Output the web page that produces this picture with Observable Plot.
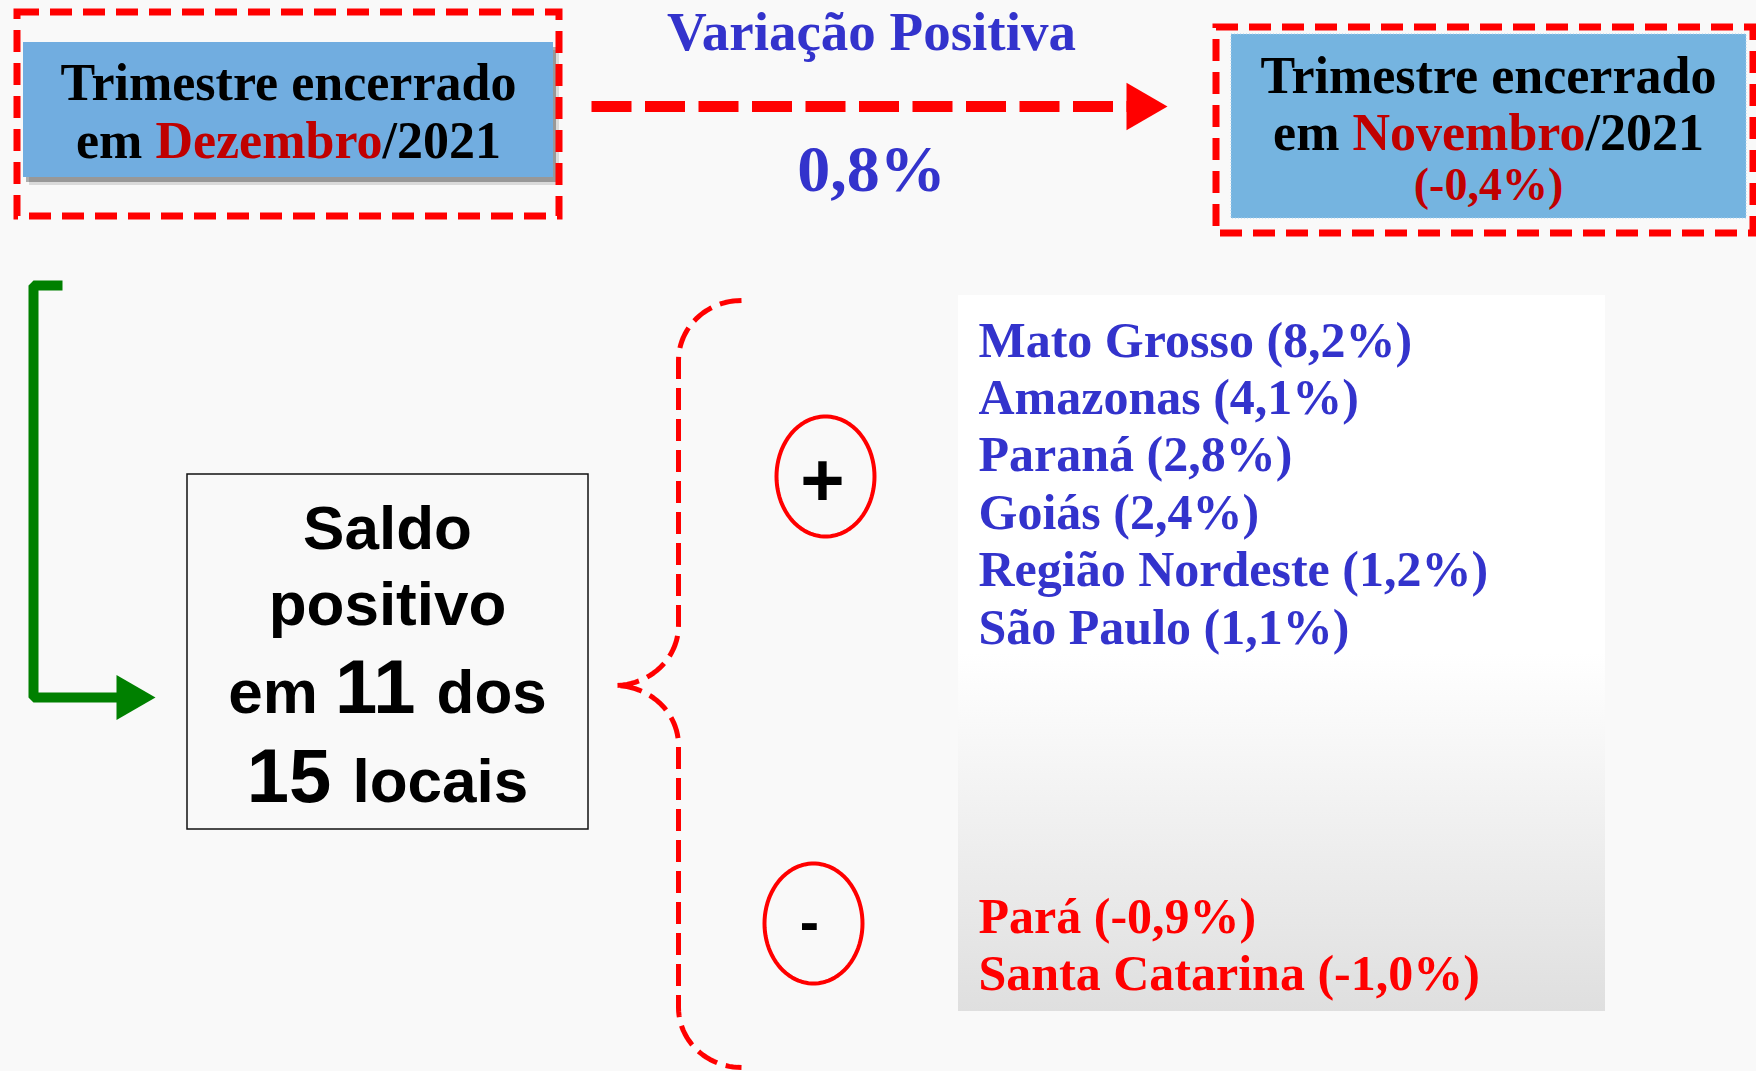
<!DOCTYPE html>
<html lang="pt-BR">
<head>
<meta charset="utf-8">
<title>Trimestre encerrado em Dezembro/2021</title>
<script src="https://cdn.jsdelivr.net/npm/d3@7"></script>
<script src="https://cdn.jsdelivr.net/npm/@observablehq/plot@0.6"></script>
<style>
html, body { margin: 0; padding: 0; background: #f9f9f9; overflow: hidden; }
svg { display: block; }
</style>
</head>
<body>
<div id="chart"></div>
<script>
// ---------------- data ----------------
const headerLabel = "Trimestre encerrado";
const currentMonth = "Dezembro";
const previousMonth = "Novembro";
const year = "2021";
const variationLabel = "Variação Positiva";
const variationValue = 0.8;
const previousValue = -0.4;
const positiveCount = 11;
const totalCount = 15;
const positiveLocals = ["Mato Grosso", "Amazonas", "Paraná", "Goiás", "Região Nordeste", "São Paulo"];
const positiveValues = [8.2, 4.1, 2.8, 2.4, 1.2, 1.1];
const negativeLocals = ["Pará", "Santa Catarina"];
const negativeValues = [-0.9, -1.0];

// ---------------- styling / layout ----------------
const W = 1756, H = 1071;
const SERIF = "'Liberation Serif', 'Times New Roman', serif";
const SANS = "'Liberation Sans', Arial, sans-serif";
const C = {
  bg: "#f9f9f9", black: "#000000", red: "#ff0000", darkRed: "#c00000",
  blueText: "#3333cc", boxBlueL: "#71ade0", boxBlueR: "#75b4e0", green: "#008000"
};
const L = {
  boxL: {x1: 17, x2: 559, y1: 12, y2: 216},
  blueL: {x1: 23, x2: 553, y1: 42, y2: 177},
  boxR: {x1: 1216, x2: 1753, y1: 27, y2: 233},
  blueR: {x1: 1231, x2: 1746, y1: 34, y2: 218},
  hdrL: {cx: 288, y: [99, 157]},
  hdrR: {cx: 1488, y: [92, 149, 199]},
  hdrSize: 52, hdrSmall: 46,
  varLabel: {cx: 871, y: 49, size: 55},
  varValue: {cx: 871, y: 190, size: 66},
  arrow: {x1: 591, x2: 1128, y: 106, base: 1126, tip: 1167},
  green: {x: 33, top: 285, stubX: 62, y: 697, endX: 120, base: 116, tip: 155},
  saldo: {x1: 187, x2: 588, y1: 474, y2: 829, cx: 387, y: [548, 624, 712, 801], size: 62, big: 76},
  brace: {x: 678, endX: 741, tipX: 614, top: 300, tipY: 685, bottom: 1067, r: 60},
  plus: {cx: 825, cy: 476, rx: 49, ry: 60, tx: 822, ty: 505, size: 76},
  minus: {cx: 813, cy: 923, rx: 49, ry: 60, tx: 809, ty: 941, size: 58},
  panel: {x1: 958, x2: 1605, y1: 295, y2: 1011},
  list: {x: 978, y0: 356, dy: 57.4, negY0: 932, size: 50}
};

const fmt = v => v.toFixed(1).replace(".", ",") + "%";

// ---------------- helpers ----------------
const ctx = document.createElement("canvas").getContext("2d");
function textWidth(text, size, family) {
  ctx.font = `bold ${size}px ${family}`;
  return ctx.measureText(text).width;
}
// a centred line made of differently styled pieces; "space" adds a trailing space to the advance
function lineParts(parts, cx, y, family) {
  const adv = parts.map(p => textWidth(p.space ? p.text + " " : p.text, p.size, family));
  let x = cx - d3.sum(adv) / 2;
  return parts.map((p, i) => {
    const r = {text: p.text, size: p.size, fill: p.fill, x, y};
    x += adv[i];
    return r;
  });
}
function arc(cx, cy, rx, ry, a0, a1, n = 24) {
  return d3.range(n + 1).map(k => {
    const a = (a0 + (a1 - a0) * k / n) * Math.PI / 180;
    return {x: cx + rx * Math.cos(a), y: cy + ry * Math.sin(a)};
  });
}
function ellipse(id, e) {
  return arc(e.cx, e.cy, e.rx, e.ry, 0, 360, 90).map(p => ({...p, id}));
}
const rectOf = (b, dx = 0, dy = 0) => ({x1: b.x1 + dx, x2: b.x2 + dx, y1: b.y1 + dy, y2: b.y2 + dy});

// ---------------- texts ----------------
const hs = L.hdrSize;
const serifTexts = [
  // left header
  ...lineParts([{text: headerLabel, size: hs, fill: C.black}], L.hdrL.cx, L.hdrL.y[0], SERIF),
  ...lineParts([
    {text: "em", size: hs, fill: C.black, space: true},
    {text: currentMonth, size: hs, fill: C.darkRed},
    {text: "/" + year, size: hs, fill: C.black}
  ], L.hdrL.cx, L.hdrL.y[1], SERIF),
  // right header
  ...lineParts([{text: headerLabel, size: hs, fill: C.black}], L.hdrR.cx, L.hdrR.y[0], SERIF),
  ...lineParts([
    {text: "em", size: hs, fill: C.black, space: true},
    {text: previousMonth, size: hs, fill: C.darkRed},
    {text: "/" + year, size: hs, fill: C.black}
  ], L.hdrR.cx, L.hdrR.y[1], SERIF),
  ...lineParts([{text: `(${fmt(previousValue)})`, size: L.hdrSmall, fill: C.darkRed}], L.hdrR.cx, L.hdrR.y[2], SERIF),
  // variation
  ...lineParts([{text: variationLabel, size: L.varLabel.size, fill: C.blueText}], L.varLabel.cx, L.varLabel.y, SERIF),
  ...lineParts([{text: fmt(variationValue), size: L.varValue.size, fill: C.blueText}], L.varValue.cx, L.varValue.y, SERIF),
  // lists
  ...positiveLocals.map((name, i) => ({
    text: `${name} (${fmt(positiveValues[i])})`, size: L.list.size, fill: C.blueText,
    x: L.list.x, y: L.list.y0 + i * L.list.dy
  })),
  ...negativeLocals.map((name, i) => ({
    text: `${name} (${fmt(negativeValues[i])})`, size: L.list.size, fill: C.red,
    x: L.list.x, y: L.list.negY0 + i * L.list.dy
  }))
];

const s = L.saldo;
const sansTexts = [
  ...lineParts([{text: "Saldo", size: s.size, fill: C.black}], s.cx, s.y[0], SANS),
  ...lineParts([{text: "positivo", size: s.size, fill: C.black}], s.cx, s.y[1], SANS),
  ...lineParts([
    {text: "em", size: s.size, fill: C.black, space: true},
    {text: String(positiveCount), size: s.big, fill: C.black, space: true},
    {text: "dos", size: s.size, fill: C.black}
  ], s.cx, s.y[2], SANS),
  ...lineParts([
    {text: String(totalCount), size: s.big, fill: C.black, space: true},
    {text: "locais", size: s.size, fill: C.black}
  ], s.cx, s.y[3], SANS),
  ...lineParts([{text: "+", size: L.plus.size, fill: C.black}], L.plus.tx, L.plus.ty, SANS),
  ...lineParts([{text: "-", size: L.minus.size, fill: C.black}], L.minus.tx, L.minus.ty, SANS)
];

// ---------------- shapes ----------------
const b = L.brace;
const bracePts = [
  ...arc(b.endX, b.top + b.r, b.endX - b.x, b.r, -90, -180),
  ...arc(b.tipX, b.tipY - b.r, b.x - b.tipX, b.r, 0, 90),
  ...arc(b.tipX, b.tipY + b.r, b.x - b.tipX, b.r, -90, 0),
  ...arc(b.endX, b.bottom - b.r, b.endX - b.x, b.r, 180, 90)
];
const g = L.green;
const greenPts = [
  {x: g.stubX, y: g.top}, {x: g.x, y: g.top}, {x: g.x, y: g.y}, {x: g.endX, y: g.y}
];
const arrowPts = [{x: L.arrow.x1, y: L.arrow.y}, {x: L.arrow.x2, y: L.arrow.y}];
const heads = [
  {x: L.arrow.base + (L.arrow.tip - L.arrow.base) / 3, y: L.arrow.y, r: (L.arrow.tip - L.arrow.base) / 2.333, fill: C.red},
  {x: g.base + (g.tip - g.base) / 3, y: g.y, r: (g.tip - g.base) / 2.333, fill: C.green}
];
const ellipsePts = [...ellipse("plus", L.plus), ...ellipse("minus", L.minus)];

const defs = () => {
  const d = d3.create("svg:defs");
  const lg = d.append("linearGradient").attr("id", "panelGrad")
    .attr("x1", 0).attr("x2", 0).attr("y1", 0).attr("y2", 1);
  lg.append("stop").attr("offset", "0%").attr("stop-color", "#ffffff");
  lg.append("stop").attr("offset", "50%").attr("stop-color", "#ffffff");
  lg.append("stop").attr("offset", "100%").attr("stop-color", "#dfdfdf");
  return d.node();
};

const chart = Plot.plot({
  width: W, height: H, margin: 0,
  x: {domain: [0, W], range: [0, W], axis: null},
  y: {domain: [0, H], range: [0, H], axis: null},
  r: {type: "identity"},
  color: {type: "identity"},
  style: {background: C.bg, overflow: "visible"},
  marks: [
    defs,
    // left header
    Plot.rect([rectOf(L.blueL, 6, 8)], {x1: "x1", x2: "x2", y1: "y1", y2: "y2", fill: "#000", fillOpacity: 0.12}),
    Plot.rect([rectOf(L.blueL, 3, 5)], {x1: "x1", x2: "x2", y1: "y1", y2: "y2", fill: "#000", fillOpacity: 0.3}),
    Plot.rect([L.blueL], {x1: "x1", x2: "x2", y1: "y1", y2: "y2", fill: C.boxBlueL}),
    Plot.rect([L.boxL], {x1: "x1", x2: "x2", y1: "y1", y2: "y2", fill: "none", stroke: C.red, strokeWidth: 7, strokeDasharray: "22,11"}),
    // right header
    Plot.rect([L.blueR], {x1: "x1", x2: "x2", y1: "y1", y2: "y2", fill: C.boxBlueR, stroke: "#a8cfee", strokeWidth: 1, strokeDasharray: "1,2"}),
    Plot.rect([L.boxR], {x1: "x1", x2: "x2", y1: "y1", y2: "y2", fill: "none", stroke: C.red, strokeWidth: 7, strokeDasharray: "22,11"}),
    // arrow
    Plot.line(arrowPts, {x: "x", y: "y", stroke: C.red, strokeWidth: 11, strokeDasharray: "40,13.5", strokeLinecap: "butt"}),
    // green bracket
    Plot.line(greenPts, {x: "x", y: "y", stroke: C.green, strokeWidth: 10, strokeLinecap: "butt", strokeLinejoin: "miter"}),
    Plot.dot(heads, {x: "x", y: "y", r: "r", fill: "fill", stroke: null, symbol: "triangle", rotate: 90}),
    // saldo box
    Plot.rect([L.saldo], {x1: "x1", x2: "x2", y1: "y1", y2: "y2", fill: "none", stroke: "#111", strokeWidth: 1.5}),
    // brace
    Plot.line(bracePts, {x: "x", y: "y", stroke: C.red, strokeWidth: 5, strokeDasharray: "22,9", strokeLinecap: "butt"}),
    // ellipses
    Plot.line(ellipsePts, {x: "x", y: "y", z: "id", stroke: C.red, strokeWidth: 4}),
    // list panel
    Plot.rect([L.panel], {x1: "x1", x2: "x2", y1: "y1", y2: "y2", fill: "url(#panelGrad)"}),
    // texts
    Plot.text(serifTexts, {x: "x", y: "y", text: "text", fill: "fill", fontSize: "size", textAnchor: "start", lineAnchor: "bottom", fontFamily: SERIF, fontWeight: "bold"}),
    Plot.text(sansTexts, {x: "x", y: "y", text: "text", fill: "fill", fontSize: "size", textAnchor: "start", lineAnchor: "bottom", fontFamily: SANS, fontWeight: "bold"})
  ]
});
document.getElementById("chart").appendChild(chart);
</script>
</body>
</html>
